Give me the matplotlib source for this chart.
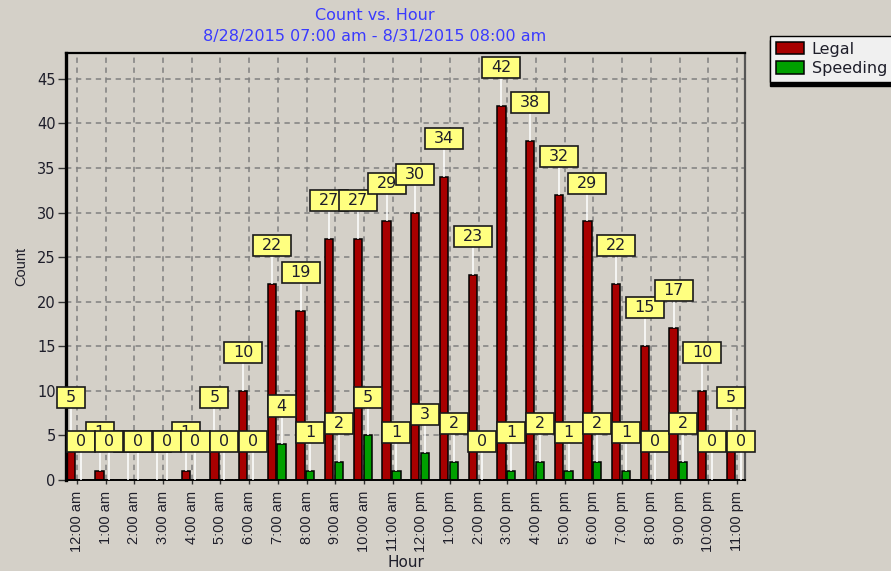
import matplotlib
matplotlib.use("Agg")
import matplotlib.pyplot as plt
from matplotlib.patches import Rectangle
import numpy as np

hours = ["12:00 am", "1:00 am", "2:00 am", "3:00 am", "4:00 am", "5:00 am",
         "6:00 am", "7:00 am", "8:00 am", "9:00 am", "10:00 am", "11:00 am",
         "12:00 pm", "1:00 pm", "2:00 pm", "3:00 pm", "4:00 pm", "5:00 pm",
         "6:00 pm", "7:00 pm", "8:00 pm", "9:00 pm", "10:00 pm", "11:00 pm"]
legal = [5, 1, 0, 0, 1, 5, 10, 22, 19, 27, 27, 29, 30, 34, 23, 42, 38, 32, 29, 22, 15, 17, 10, 5]
speeding = [0, 0, 0, 0, 0, 0, 0, 4, 1, 2, 5, 1, 3, 2, 0, 1, 2, 1, 2, 1, 0, 2, 0, 0]
yticks = [0, 5, 10, 15, 20, 25, 30, 35, 40, 45]
title1 = "Count vs. Hour"
title2 = "8/28/2015 07:00 am - 8/31/2015 08:00 am"

BG = "#D4D0C8"
RED = "#A80000"
GREEN = "#00A000"
BOXFACE = "#FFFF80"
TXT = "#1e1e2a"

fig = plt.figure(figsize=(8.91, 5.71), dpi=100, facecolor=BG)
ax = fig.add_axes([66/891, 1-480/571, 679/891, 427/571])
ax.set_facecolor(BG)

x = np.arange(len(hours))
bw = 0.29
off_l, off_s = -0.21, 0.13
ax.bar(x + off_l, legal, width=bw, color=RED, edgecolor="black", linewidth=1.1, label="Legal", zorder=2)
ax.bar(x + off_s, speeding, width=bw, color=GREEN, edgecolor="black", linewidth=1.1, label="Speeding", zorder=2)

ax.set_xlim(-0.383, 23.28)
ax.set_ylim(0, 47.9)
ax.set_xticks(x)
ax.set_xticklabels(hours, rotation=90, fontfamily="Liberation Sans", fontsize=10.5, color=TXT)
ax.set_yticks(yticks)
ax.set_yticklabels([str(v) for v in yticks], fontfamily="DejaVu Sans", fontsize=10.5, color=TXT)
ax.tick_params(axis="y", length=6, width=1, pad=1.5, colors="#333333", labelcolor=TXT)
ax.tick_params(axis="x", length=3, width=1, pad=5, colors="#333333", labelcolor=TXT)

ax.grid(True, color="#808080", linestyle=(0, (3.5, 3)), linewidth=1.1)
ax.set_axisbelow(True)

for s in ["left"]:
    ax.spines[s].set_linewidth(2.4)
    ax.spines[s].set_color("black")
ax.spines["top"].set_linewidth(1.6)
ax.spines["top"].set_color("black")
ax.spines["right"].set_linewidth(1.6)
ax.spines["right"].set_color("#555555")
ax.spines["bottom"].set_linewidth(1.4)
ax.spines["bottom"].set_color("black")

# value labels
lift = 4.3
bh = 2.36
def draw_labels(vals, offset, zbase):
    for i, v in enumerate(vals):
        xc = i + offset
        yc = v + lift
        ax.plot([xc, xc], [v, yc - bh/2], color="white", linewidth=1.1, zorder=3, solid_capstyle="butt")
        s = str(v)
        w = 0.63 + 0.347*len(s)
        z = zbase + 0.02*i
        ax.add_patch(Rectangle((xc - w/2, yc - bh/2), w, bh, facecolor=BOXFACE,
                               edgecolor="#1a1a1a", linewidth=1.2, zorder=z, clip_on=False))
        ax.text(xc, yc, s, ha="center", va="center", fontsize=11.5, fontfamily="DejaVu Sans",
                color=TXT, zorder=z + 0.01, clip_on=False)

draw_labels(legal, off_l, 4)
draw_labels(speeding, off_s, 6)

ax.set_ylabel("Count", fontfamily="Liberation Sans", fontsize=10.5, color=TXT, labelpad=6)
ax.set_xlabel("Hour", fontfamily="DejaVu Sans", fontsize=11, color=TXT, labelpad=2)

fig.text(375/891, 1-16/571, title1, ha="center", va="center", color="#3a3aff",
         fontsize=11.5, fontfamily="DejaVu Sans")
fig.text(375/891, 1-36/571, title2, ha="center", va="center", color="#3a3aff",
         fontsize=11.5, fontfamily="DejaVu Sans")

leg = ax.legend(loc="upper left", bbox_to_anchor=(770/891, 1-36/571), bbox_transform=fig.transFigure,
                prop={"family": "DejaVu Sans", "size": 11.5}, frameon=True, fancybox=False,
                shadow={"color": "black", "alpha": 1.0, "ox": 0, "oy": -3},
                handlelength=1.75, handleheight=0.85, handletextpad=0.5, borderpad=0.35,
                labelspacing=0.3, borderaxespad=0)
frame = leg.get_frame()
frame.set_facecolor("#F0F0F0")
frame.set_edgecolor("black")
frame.set_linewidth(1.0)
frame.set_alpha(1.0)
for t in leg.get_texts():
    t.set_color(TXT)

fig.savefig("out.png", dpi=100, facecolor=BG)
